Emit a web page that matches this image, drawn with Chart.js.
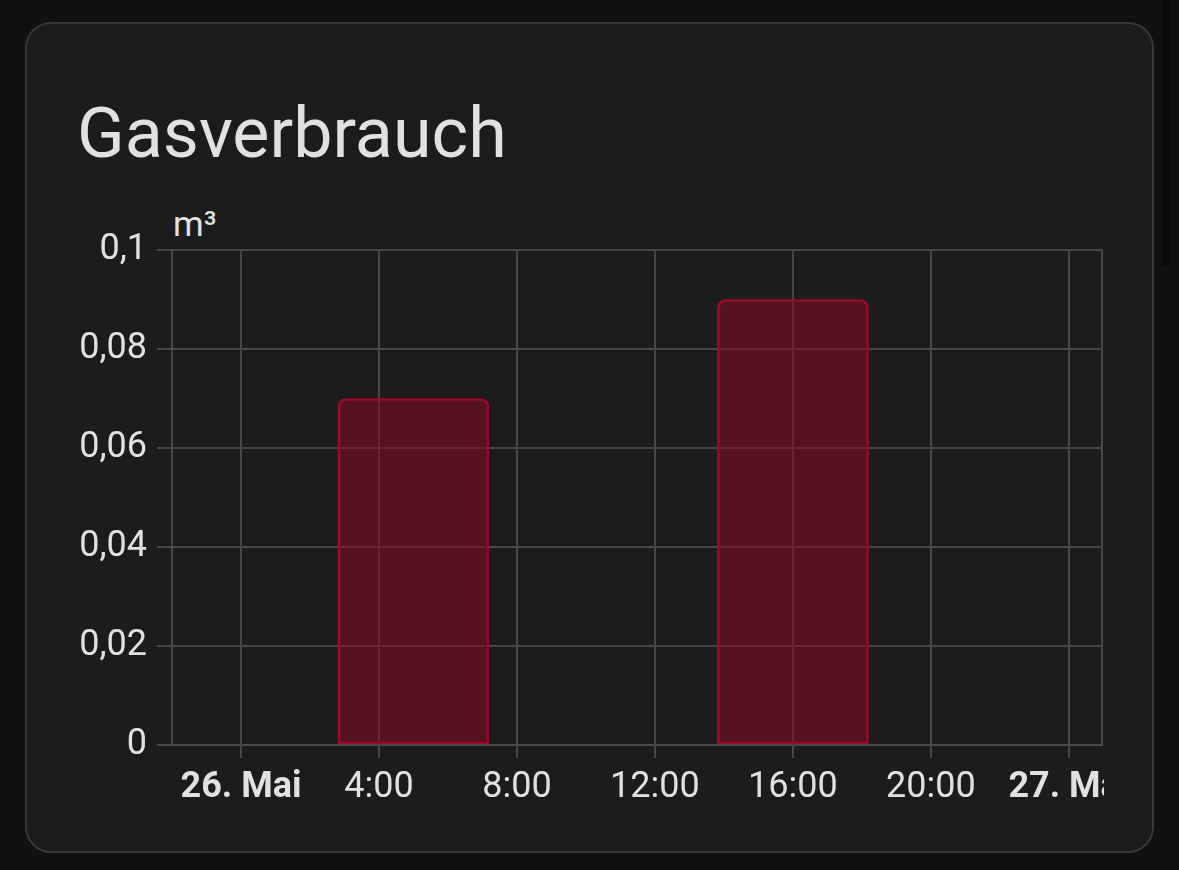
<!DOCTYPE html>
<html><head><meta charset="utf-8">
<script src="https://cdn.jsdelivr.net/npm/chart.js@4/dist/chart.umd.min.js"></script>
<style>
html,body{margin:0;padding:0;background:#111111;width:1179px;height:870px;overflow:hidden;font-family:Roboto,sans-serif;}
#card{position:absolute;left:25px;top:22px;width:1125px;height:827px;background:#1c1c1c;border:2px solid #383838;border-radius:26px;}
#title{position:absolute;left:77px;top:98px;font-size:70px;line-height:1;color:#e1e1e1;white-space:nowrap;}
#unit{position:absolute;left:173px;top:207px;font-size:35px;line-height:1;color:#e1e1e1;}
#scroll{position:absolute;left:1161px;top:0;width:9px;height:266px;background:#0a0a0a;border-radius:0 0 4px 4px;}
#wrap{position:absolute;left:0;top:0;width:1104px;height:870px;}
</style></head>
<body>
<div id="card"></div>
<div id="scroll"></div>
<div id="title">Gasverbrauch</div>
<div id="unit">m³</div>
<div id="wrap"><canvas id="c" width="1104" height="870"></canvas></div>
<script>
// Data (hours since 26. Mai 0:00)
const barHours = [5, 16];
const barValues = [0.07, 0.09];
const tickHours = [0, 4, 8, 12, 16, 20, 24];
const tickLabels = ['26. Mai', '4:00', '8:00', '12:00', '16:00', '20:00', '27. Mai'];
const dayTickHours = [0, 24];
const yTicks = [0, 0.02, 0.04, 0.06, 0.08, 0.1];

const gridColor = '#474747';
const textColor = '#e1e1e1';

new Chart(document.getElementById('c'), {
  type: 'bar',
  data: {
    datasets: [{
      data: barHours.map((h, i) => ({x: h, y: barValues[i]})),
      backgroundColor: 'rgba(139,6,34,0.5)',
      borderColor: '#a00a2a',
      borderWidth: 2,
      borderRadius: {topLeft: 8, topRight: 8, bottomLeft: 0, bottomRight: 0},
      borderSkipped: false,
      barThickness: 151,
      yAxisID: 'y'
    }]
  },
  options: {
    responsive: false,
    animation: false,
    devicePixelRatio: 1,
    layout: {padding: {left: 40, top: 250, right: 2, bottom: 64}},
    plugins: {legend: {display: false}, tooltip: {enabled: false}},
    scales: {
      x: {
        type: 'linear',
        min: -2,
        max: 24.96,
        offset: false,
        afterBuildTicks: (s) => { s.ticks = tickHours.map(v => ({value: v})); },
        afterFit: (s) => { s.height = 61; s.paddingLeft = 0; s.paddingRight = 0; },
        grid: {color: gridColor, lineWidth: 2, tickLength: 13, drawTicks: true, offset: false},
        border: {display: true, color: gridColor, width: 2},
        ticks: {
          autoSkip: false,
          maxRotation: 0,
          padding: 8,
          color: textColor,
          font: (ctx) => ({family: 'Roboto', size: 36,
            weight: (ctx.tick && dayTickHours.includes(ctx.tick.value)) ? 'bold' : 'normal'}),
          callback: (v) => { const i = tickHours.indexOf(v); return i >= 0 ? tickLabels[i] : ''; }
        }
      },
      y: {
        min: 0,
        max: 0.1,
        afterBuildTicks: (s) => { s.ticks = yTicks.map(v => ({value: v})); },
        afterFit: (s) => { s.width = 132; s.paddingTop = 0; s.paddingBottom = 0; },
        grid: {color: gridColor, lineWidth: 2, tickLength: 15},
        border: {display: true, color: gridColor, width: 2},
        ticks: {
          padding: 10,
          color: textColor,
          font: {family: 'Roboto', size: 36},
          callback: (v) => Number(v).toLocaleString('de-DE')
        }
      },
      y2: {
        position: 'right',
        min: 0,
        max: 0.1,
        grid: {display: false, drawTicks: false},
        border: {display: true, color: gridColor, width: 2},
        ticks: {display: false},
        afterFit: (s) => { s.width = 0; }
      }
    }
  }
});
</script>
</body></html>
